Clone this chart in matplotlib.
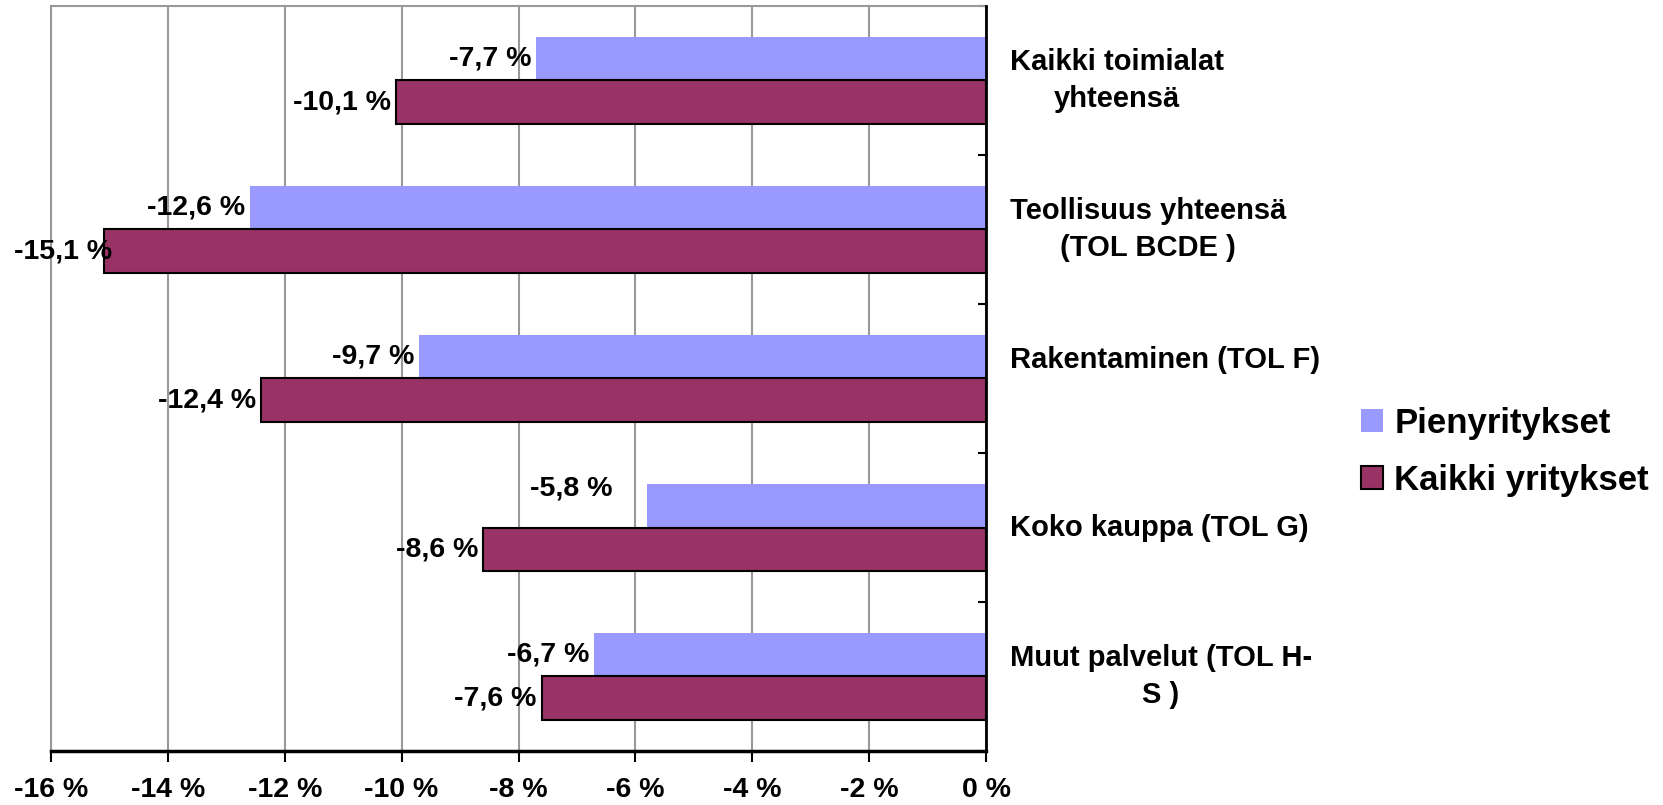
import matplotlib
matplotlib.use("Agg")
import matplotlib.pyplot as plt
import numpy as np
from matplotlib.patches import Patch

plt.rcParams['font.family'] = ['Liberation Sans', 'DejaVu Sans']
plt.rcParams['font.weight'] = 'bold'

categories = ["Kaikki toimialat\nyhteensä",
              "Teollisuus yhteensä\n(TOL BCDE )",
              "Rakentaminen (TOL F)\n ",
              "Koko kauppa (TOL G)",
              "Muut palvelut (TOL H-\nS )"]
pien = [-7.7, -12.6, -9.7, -5.8, -6.7]
kaikki = [-10.1, -15.1, -12.4, -8.6, -7.6]
series_names = ["Pienyritykset", "Kaikki yritykset"]
xticks = [-16, -14, -12, -10, -8, -6, -4, -2, 0]
xticklabels = ["-16 %", "-14 %", "-12 %", "-10 %", "-8 %", "-6 %", "-4 %", "-2 %", "0 %"]

blue = "#9999FF"
red = "#993366"

W, H = 1663, 805
fig = plt.figure(figsize=(W / 100, H / 100), dpi=100)
left, right, top, bottom = 51, 986, 6, 751
ax = fig.add_axes([left / W, (H - bottom) / H, (right - left) / W, (bottom - top) / H])

y = np.arange(len(categories))
h = 0.29
ax.barh(y - h / 2, pien, height=h, color=blue, edgecolor='none', zorder=3)
ax.barh(y + h / 2, kaikki, height=h, color=red, edgecolor='black', linewidth=1.5, zorder=3)

ax.set_xlim(-16, 0)
ax.set_ylim(len(categories) - 0.5, -0.5)

ax.set_xticks(xticks)
ax.set_xticklabels(xticklabels, fontsize=20.5, fontweight='bold')
ax.tick_params(axis='x', direction='out', length=8, width=1.5, color='black', pad=11)
ax.grid(axis='x', color='#999999', linewidth=1.5, zorder=0)

ax.yaxis.tick_right()
ax.set_yticks(np.arange(-0.5, len(categories), 1.0))
ax.set_yticklabels([])
ax.tick_params(axis='y', direction='in', length=6, width=1.5, color='black')

for s in ['left', 'top']:
    ax.spines[s].set_color('#999999')
    ax.spines[s].set_linewidth(1.5)
ax.spines['bottom'].set_color('black')
ax.spines['bottom'].set_linewidth(2.5)
ax.spines['right'].set_color('black')
ax.spines['right'].set_linewidth(2)
ax.spines['right'].set_zorder(5)

# category labels on the right
for i, c in enumerate(categories):
    ax.text(1.0257, i, c, transform=ax.get_yaxis_transform(), ha='left', va='center',
            multialignment='center', fontsize=21, fontweight='bold', linespacing=1.42)

# data labels
def fmt(v):
    return ("%.1f %%" % v).replace(".", ",")

pien_off = {3: (-35, 17)}
kaikki_off = {1: (9, 0)}
for i, v in enumerate(pien):
    dx, dy = pien_off.get(i, (-5, 0))
    ax.annotate(fmt(v), (v, i - h / 2), xytext=(dx, dy), textcoords='offset pixels',
                ha='right', va='center', fontsize=20.5, fontweight='bold', zorder=6)
for i, v in enumerate(kaikki):
    dx, dy = kaikki_off.get(i, (-5, 0))
    ax.annotate(fmt(v), (v, i + h / 2), xytext=(dx, dy), textcoords='offset pixels',
                ha='right', va='center', fontsize=20.5, fontweight='bold', zorder=6)

handles = [Patch(facecolor=blue, edgecolor='none'),
           Patch(facecolor=red, edgecolor='black', linewidth=1.5)]
fig.legend(handles, series_names, loc='center left', bbox_to_anchor=(1361 / W, 1 - 452 / H),
           frameon=False, prop={'size': 25, 'weight': 'bold'}, handlelength=0.64,
           handleheight=0.64, handletextpad=0.32, labelspacing=0.7, borderpad=0, borderaxespad=0)

fig.savefig("out.png", dpi=100)
